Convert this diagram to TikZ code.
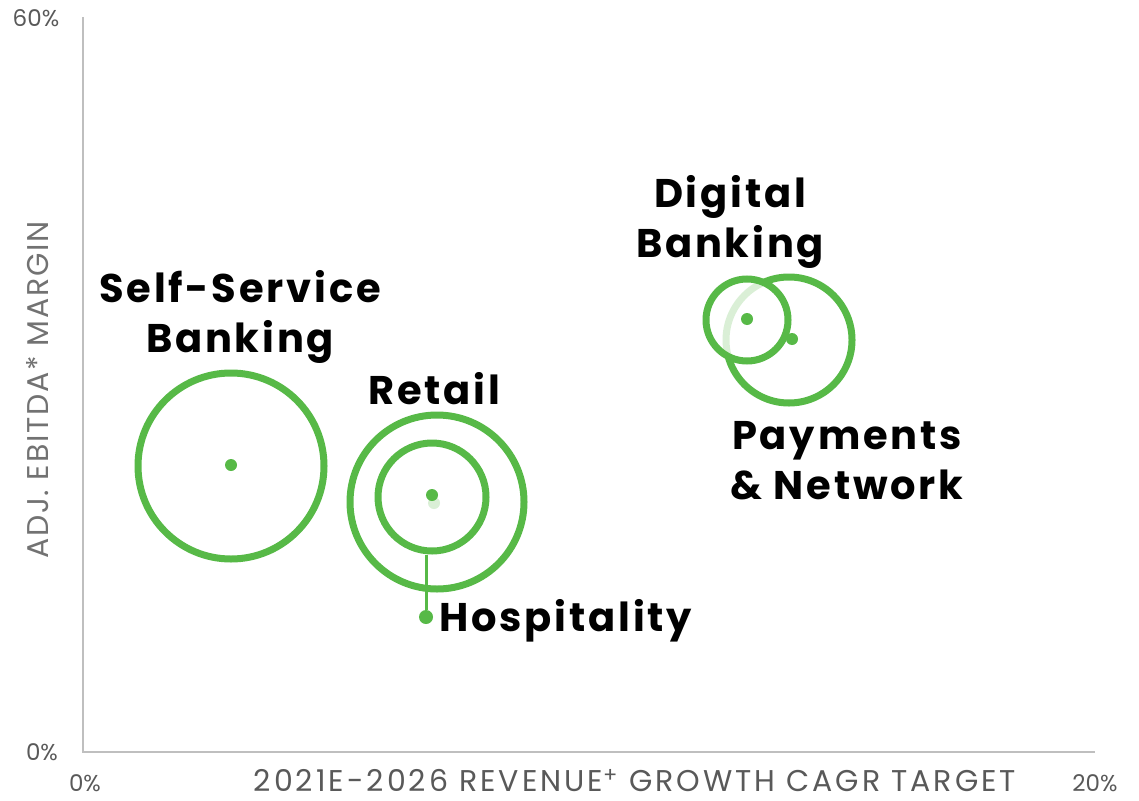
\documentclass[tikz,border=0pt]{standalone}
\usepackage{fontspec}
\setmainfont{Poppins}
\newfontfamily\lblfont{Poppins}[LetterSpace=7]
\newfontfamily\xaxfont{Poppins}[LetterSpace=10]
\newfontfamily\yaxfont{Poppins}[LetterSpace=6]
\usepackage{xcolor}
\usepackage{tikz}
\usetikzlibrary{positioning}

\definecolor{ringgreen}{HTML}{57B947}
\definecolor{axisgray}{HTML}{BFBFBF}
\definecolor{textgray}{HTML}{595959}

\begin{document}
\begin{tikzpicture}[x=1pt, y=-1pt]
\tikzstyle{ring}=[circle, draw=ringgreen, line width=7pt, inner sep=0pt]
\tikzstyle{veil}=[fill=white, fill opacity=0.78]
\tikzstyle{dot}=[circle, fill=ringgreen, inner sep=0pt, minimum size=12pt]
\tikzstyle{lbl}=[align=center, font=\lblfont\fontsize{40}{50}\selectfont\bfseries, text=black]
\tikzstyle{tick}=[font=\fontsize{23}{26}\selectfont, text=textgray]
\useasboundingbox (0,0) rectangle (1139,800);

% axes
\coordinate (org) at (83,752);
\coordinate (ytop) at (83,17);
\coordinate (xend) at (1095,752);
\draw[axisgray, line width=2pt] (ytop) -- (org) -- (xend);
\node[tick] (y60) at (36,18) {60\%};
\node[tick] (y0) at (42,752) {0\%};
\node[tick] (x0) at (85,783) {0\%};
\node[tick] (x20) at (1095,783) {20\%};
\node[font=\xaxfont\fontsize{30}{34}\selectfont, text=textgray, inner sep=0pt] (xlab) at (635,781) {2021E-2026 REVENUE\textsuperscript{+} GROWTH CAGR TARGET};
\node[font=\yaxfont\fontsize{30}{34}\selectfont, text=textgray!85, rotate=90] (ylab) at (38,390) {ADJ. EBITDA* MARGIN};

% self-service banking
\node[ring, minimum size=186pt] (ssb) at (231,466) {};
\node[dot] (ssbdot) at (231,465) {};
\node[lbl] (ssblab) at (240,317) {Self-Service\\Banking};

% retail + hospitality
\node[ring, minimum size=174pt] (ret) at (437,502) {};
\node[dot] (retdot) at (434,503) {};
\node[ring, veil, minimum size=108pt] (hosp) at (432,497) {};
\node[dot] (hospdot) at (432,495) {};
\node[lbl] (retlab) at (434,389) {Retail};
\node[dot, minimum size=14pt] (hlead) at (426,617) {};
\draw[ringgreen, line width=3pt] (hlead) -- (hlead |- hosp.south);
\node[lbl, anchor=west] (hosplab) at (436,621) {Hospitality};

% payments + digital banking
\node[ring, minimum size=126pt] (pay) at (789,340) {};
\node[dot] (paydot) at (792,339) {};
\node[ring, veil, minimum size=82pt] (dig) at (747,320) {};
\node[dot] (digdot) at (747,319) {};
\node[lbl] (diglab) at (730,222) {Digital\\Banking};
\node[lbl] (paylab) at (847,461) {Payments\\\& Network};
\end{tikzpicture}
\end{document}
